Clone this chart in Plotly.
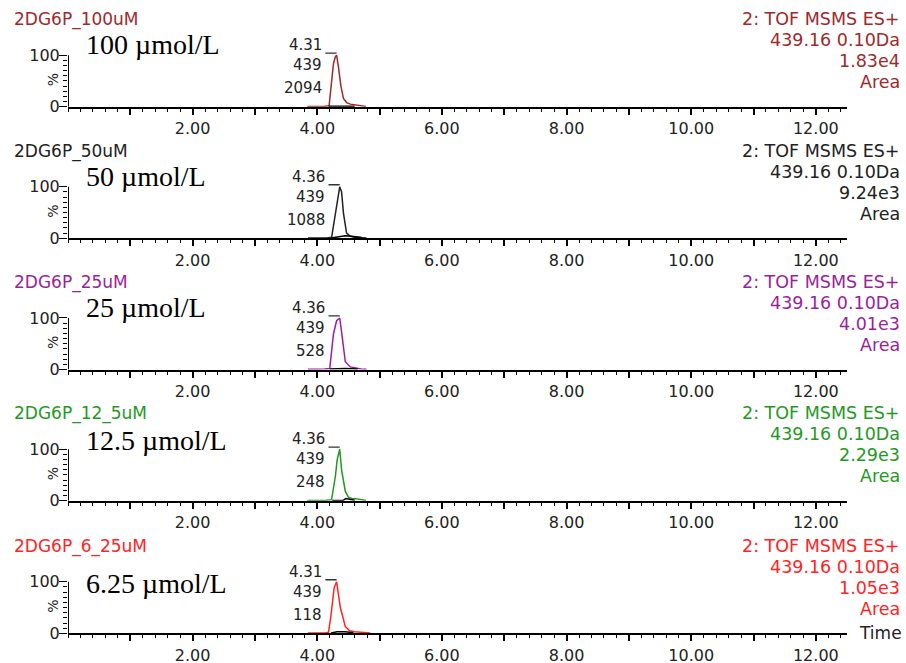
import plotly.graph_objects as go

# ---- chromatogram data (retention time in min, relative intensity in %) ----
sample_names = ["2DG6P_100uM", "2DG6P_50uM", "2DG6P_25uM", "2DG6P_12_5uM", "2DG6P_6_25uM"]
conc_labels = ["100 \u00b5mol/L", "50 \u00b5mol/L", "25 \u00b5mol/L", "12.5 \u00b5mol/L", "6.25 \u00b5mol/L"]
peak_rt = [4.31, 4.36, 4.36, 4.36, 4.31]
peak_mz = [439, 439, 439, 439, 439]
peak_area = [2094, 1088, 528, 248, 118]
response = ["1.83e4", "9.24e3", "4.01e3", "2.29e3", "1.05e3"]
function_label = "2: TOF MSMS ES+"
mass_window = "439.16 0.10Da"

rt_100 = [3.84, 4.00, 4.12, 4.19, 4.23, 4.26, 4.29, 4.31, 4.34, 4.38, 4.42, 4.47, 4.53, 4.58, 4.64, 4.70, 4.78]
int_100 = [0.5, 0.5, 0.8, 2, 45, 84, 97, 100, 77, 39, 16, 8, 5, 4, 2, 1, 0.5]

rt_50 = [3.85, 4.00, 4.15, 4.23, 4.29, 4.34, 4.36, 4.39, 4.42, 4.47, 4.53, 4.60, 4.70, 4.79]
int_50 = [0.5, 0.5, 0.8, 2, 49, 85, 100, 90, 49, 10, 4, 2, 1, 0.5]

rt_25 = [3.85, 4.00, 4.12, 4.20, 4.26, 4.31, 4.36, 4.39, 4.45, 4.53, 4.60, 4.70, 4.79]
int_25 = [0.5, 0.5, 0.8, 2, 69, 95, 100, 73, 15, 5, 3, 1, 0.5]

rt_12_5 = [3.84, 4.00, 4.15, 4.23, 4.29, 4.32, 4.36, 4.39, 4.45, 4.50, 4.56, 4.62, 4.70, 4.78]
int_12_5 = [0.5, 0.5, 1, 2, 47, 80, 100, 60, 18, 7, 4, 4, 2, 0.5]

rt_6_25 = [3.85, 4.00, 4.12, 4.18, 4.22, 4.27, 4.31, 4.37, 4.45, 4.52, 4.60, 4.70, 4.85]
int_6_25 = [0.5, 0.5, 0.8, 2, 35, 88, 100, 50, 13, 5, 3, 2, 0.5]

# integration baselines (black)
base_rt_100 = [4.18, 4.40, 4.60]
base_int_100 = [1, 1.5, 1]
base_rt_50 = [4.22, 4.45, 4.55, 4.71]
base_int_50 = [0.5, 5, 4, 1.5]
base_rt_25 = [4.20, 4.45, 4.65]
base_int_25 = [1, 2, 1]
base_rt_12_5 = [4.24, 4.42, 4.46, 4.55, 4.60]
base_int_12_5 = [0.5, 1, 4, 3, 1]
base_rt_6_25 = [4.22, 4.32, 4.45, 4.58]
base_int_6_25 = [0.5, 3, 3, 1]

traces_rt = [rt_100, rt_50, rt_25, rt_12_5, rt_6_25]
traces_int = [int_100, int_50, int_25, int_12_5, int_6_25]
bases_rt = [base_rt_100, base_rt_50, base_rt_25, base_rt_12_5, base_rt_6_25]
bases_int = [base_int_100, base_int_50, base_int_25, base_int_12_5, base_int_6_25]

x_tick_minutes = list(range(1, 13))
y_tick_values = [0, 100]

colors = ["#9e2a2b", "#222222", "#9a1f9e", "#1f9a1f", "#ff2424"]

# ---- layout geometry (pixels) ----
W, H = 906, 663
X_LEFT, X_RIGHT = 68, 847
ZERO_PX = [106.7, 238.3, 369.5, 500.7, 633.3]
PANEL_H = 51.5
Y_TOP = 107            # head-room above 100 % for the apex marker
CONC_Y = [45, 177, 307, 440, 583]

SANS = "DejaVu Sans"
SERIF = "Liberation Serif"
TXT = "#222222"


def px_x(p):
    return p / W


def px_y(p):
    return 1 - p / H


fig = go.Figure()
annotations = []
layout_axes = {}

for i in range(5):
    n = i + 1
    xref = "x" if n == 1 else f"x{n}"
    yref = "y" if n == 1 else f"y{n}"
    xkey = "xaxis" if n == 1 else f"xaxis{n}"
    ykey = "yaxis" if n == 1 else f"yaxis{n}"
    y0 = ZERO_PX[i]
    y100 = y0 - PANEL_H
    y_top = y0 - PANEL_H * Y_TOP / 100
    col = colors[i]

    # chromatogram trace
    fig.add_trace(go.Scatter(x=traces_rt[i], y=traces_int[i], mode="lines",
                             line=dict(color=col, width=1.5),
                             xaxis=xref, yaxis=yref, cliponaxis=False,
                             hoverinfo="skip", showlegend=False))
    # integration baseline
    fig.add_trace(go.Scatter(x=bases_rt[i], y=bases_int[i], mode="lines",
                             line=dict(color="black", width=1.5),
                             xaxis=xref, yaxis=yref, cliponaxis=False,
                             hoverinfo="skip", showlegend=False))
    # apex marker dash, just left of the peak top
    rt = peak_rt[i]
    fig.add_trace(go.Scatter(x=[rt - 0.18, rt], y=[104, 104], mode="lines",
                             line=dict(color="#333333", width=1.3),
                             xaxis=xref, yaxis=yref, cliponaxis=False,
                             hoverinfo="skip", showlegend=False))
    # vertical intensity axis line from 0 to 100 %
    fig.add_trace(go.Scatter(x=[0, 0], y=[0, 100], mode="lines",
                             line=dict(color="black", width=2),
                             xaxis=xref, yaxis=yref, cliponaxis=False,
                             hoverinfo="skip", showlegend=False))

    layout_axes[xkey] = dict(
        domain=[px_x(X_LEFT), px_x(X_RIGHT)], range=[0, 12.5], anchor=yref,
        showline=True, linecolor="black", linewidth=2,
        ticks="outside", ticklen=6, tickwidth=1.5, tickcolor="black",
        tickvals=x_tick_minutes,
        ticktext=[f"{v:.2f}" if v % 2 == 0 else "" for v in x_tick_minutes],
        tickfont=dict(family=SANS, size=16, color=TXT),
        minor=dict(dtick=0.2, tick0=0, ticks="outside", ticklen=3,
                   tickwidth=1, tickcolor="black"),
        showgrid=False, zeroline=False, fixedrange=True, automargin=False,
    )
    layout_axes[ykey] = dict(
        domain=[px_y(y0), px_y(y_top)], range=[0, Y_TOP], anchor=xref,
        showline=False,
        ticks="outside", ticklen=8, tickwidth=1.2, tickcolor="black",
        tickvals=y_tick_values, ticktext=[str(v) for v in y_tick_values],
        tickfont=dict(family=SANS, size=16, color=TXT),
        ticklabelstandoff=-4,
        minor=dict(dtick=10, tick0=0, ticks="outside", ticklen=4,
                   tickwidth=1, tickcolor="black"),
        showgrid=False, zeroline=False, fixedrange=True, automargin=False,
    )

    # sample name (top left)
    annotations.append(dict(text=sample_names[i], x=px_x(12), y=px_y(y100 - 35.5),
                            xref="paper", yref="paper", xanchor="left", yanchor="middle",
                            showarrow=False, font=dict(family=SANS, size=17, color=col)))
    # acquisition info (top right)
    right_lines = [function_label, mass_window, response[i], "Area"]
    for k, t in enumerate(right_lines):
        annotations.append(dict(text=t, x=px_x(902), y=px_y(y100 - 36 + 21 * k),
                                xref="paper", yref="paper", xanchor="right", yanchor="middle",
                                showarrow=False, font=dict(family=SANS, size=17.5, color=col)))
    # concentration label
    annotations.append(dict(text=conc_labels[i], x=px_x(84), y=px_y(CONC_Y[i]),
                            xref="paper", yref="paper", xanchor="left", yanchor="middle",
                            showarrow=False, font=dict(family=SERIF, size=28, color="black")))
    # % axis label
    annotations.append(dict(text="%", x=px_x(53), y=px_y(y0 - 26.5), textangle=-90,
                            xref="paper", yref="paper", xanchor="center", yanchor="middle",
                            showarrow=False, font=dict(family=SANS, size=14, color=TXT)))
    # peak labels: retention time, m/z, area
    for k, (t, dy) in enumerate(zip([f"{rt:.2f}", str(peak_mz[i]), str(peak_area[i])],
                                    [10, -10, -33])):
        annotations.append(dict(text=t, x=rt - 0.2, y=100, xref=xref, yref=yref,
                                xanchor="right", yanchor="middle", yshift=dy,
                                showarrow=False, font=dict(family=SANS, size=15, color=TXT)))

annotations.append(dict(text="Time", x=px_x(857), y=px_y(ZERO_PX[-1]),
                        xref="paper", yref="paper", xanchor="left", yanchor="middle",
                        showarrow=False, font=dict(family=SANS, size=17, color=TXT)))

fig.update_layout(
    width=W, height=H,
    margin=dict(l=0, r=0, t=0, b=0, pad=0),
    paper_bgcolor="white", plot_bgcolor="white",
    annotations=annotations,
    showlegend=False,
    **layout_axes,
)

fig.write_html("out.html", config={"displayModeBar": False})
